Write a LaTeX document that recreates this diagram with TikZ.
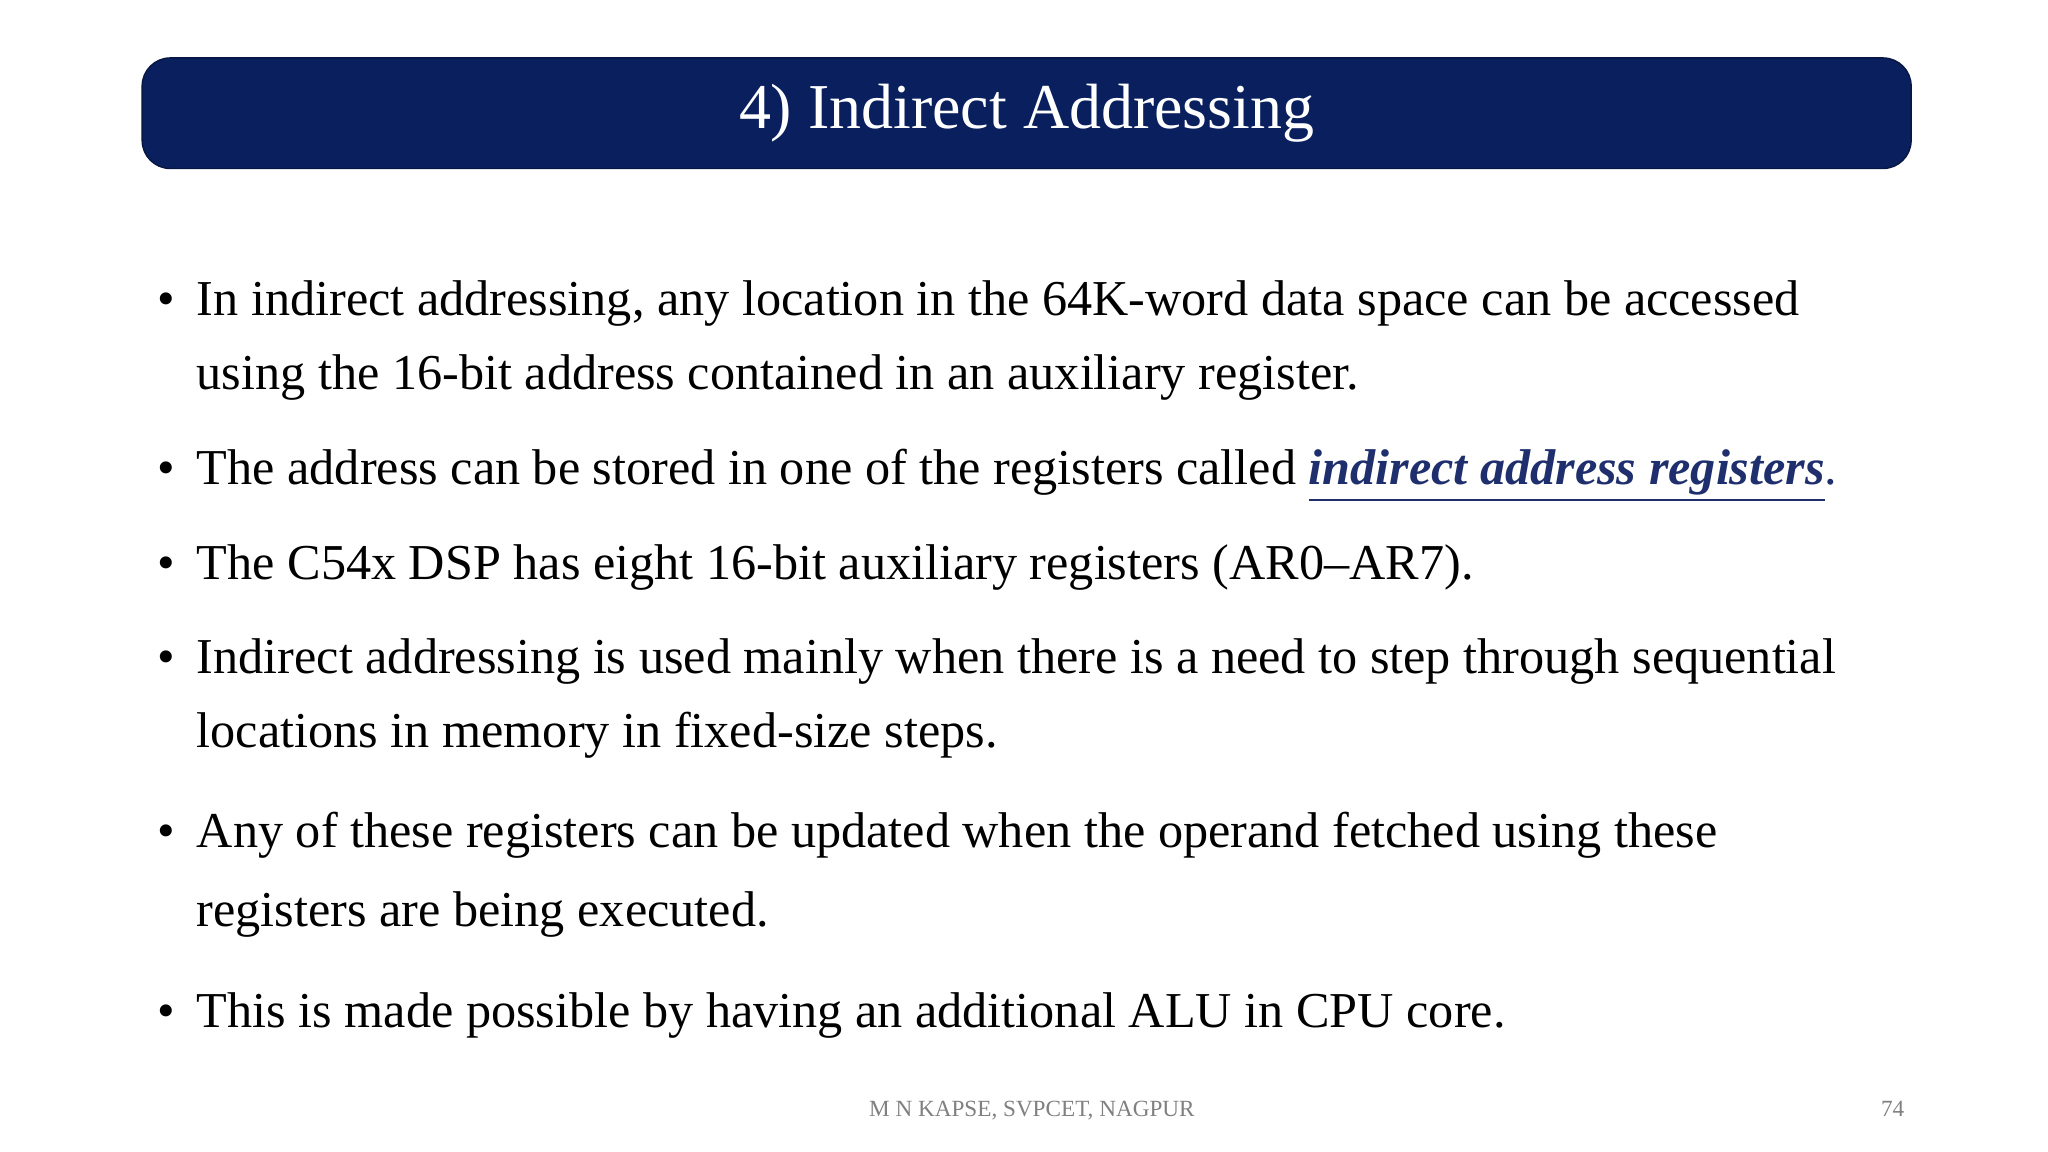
\documentclass[tikz,border=0pt]{standalone}
\usepackage{fontspec}
\setmainfont{Liberation Serif}
\begin{document}
\begin{tikzpicture}[x=0.013162cm,y=-0.013162cm,
  body/.style={anchor=base west,inner sep=0pt,font=\fontsize{14.3}{18}\selectfont},
  bul/.style={anchor=base,inner sep=0pt,font=\fontsize{14.3}{18}\selectfont},
  foot/.style={anchor=base,inner sep=0pt,text=gray,font=\fontsize{6.6}{8}\selectfont}]
\definecolor{navy}{HTML}{0A205E}
\definecolor{linkc}{HTML}{1F2F6E}
\useasboundingbox (0,0) rectangle (1556,875);
\fill[white] (0,0) rectangle (1556,875);
\node[draw=navy!70!black,fill=navy,rounded corners=8pt,minimum width=1344*0.013162cm,minimum height=84*0.013162cm,inner sep=0pt] (title) at (780,86) {};
\node[text=white,inner sep=0pt,font=\fontsize{18.2}{22}\selectfont] (tt) at (780,86) {4) Indirect Addressing};
\foreach \y/\n in {240/b1,368/b2,440/b3,512/b4,644/b5,781/b6} \node[bul] (\n) at (126,\y) {\textbullet};
\node[body] (l1) at (149,240) {In indirect addressing, any location in the 64K-word data space can be accessed};
\node[body] (l2) at (149,296) {using the 16-bit address contained in an auxiliary register.};
\node[body] (l3) at (149,368) {The address can be stored in one of the registers called \textcolor{linkc}{\textbf{\textit{\underline{indirect address registers}}}}\textcolor{linkc}{.}};
\node[body] (l4) at (149,440) {The C54x DSP has eight 16-bit auxiliary registers (AR0--AR7).};
\node[body] (l5) at (149,512) {Indirect addressing is used mainly when there is a need to step through sequential};
\node[body] (l6) at (149,568) {locations in memory in fixed-size steps.};
\node[body] (l7) at (149,644) {Any of these registers can be updated when the operand fetched using these};
\node[body] (l8) at (149,704) {registers are being executed.};
\node[body] (l9) at (149,781) {This is made possible by having an additional ALU in CPU core.};
\node[foot] (f1) at (784,848) {M N KAPSE, SVPCET, NAGPUR};
\node[foot] (f2) at (1438,848) {74};
\end{tikzpicture}
\end{document}
